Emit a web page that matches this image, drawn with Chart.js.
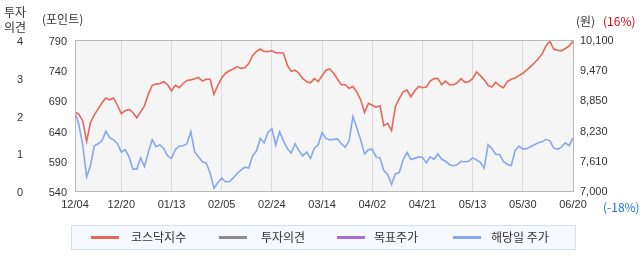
<!DOCTYPE html>
<html><head><meta charset="utf-8">
<script src="https://cdn.jsdelivr.net/npm/chart.js@4.4.1/dist/chart.umd.min.js"></script>
<style>html,body{margin:0;padding:0;background:#fff;}#wrap{width:642px;height:268px;}</style>
</head><body><div id="wrap"><canvas id="c" width="642" height="268"></canvas></div>
<script>
// ---- data ----
const tickIndex = [0,12,25,38,51,64,77,90,103,116,129];
const tickDates = ['12/04','12/20','01/13','02/05','02/24','03/14','04/02','04/21','05/13','05/30','06/20'];
const priceTicks = [7000,7620,8240,8860,9480,10100];
const priceTickLabels = ['7,000','7,610','8,230','8,850','9,470','10,100'];
const seriesNames = ['코스닥지수','투자의견','목표주가','해당일 주가'];
const kosdaqIndex = [
671,667,656,622,653,666,676,686,694,691,
694,682,668,673,675,670,661,671,681,700,
715,717,718,721,716,706,715,711,718,723,
724,726,728,722,725,725,700,715,727,735,
739,742,746,743,744,751,764,771,775,771,
771,772,769,769,768,748,738,740,735,726,
721,719,726,721,731,740,742,735,725,716,
716,710,713,704,691,670,685,682,679,681,
648,652,640,680,693,704,707,696,706,713,
711,712,722,726,726,716,722,716,716,719,
726,720,721,726,737,731,724,715,712,720,
714,711,721,725,727,731,735,740,746,752,
759,767,780,788,775,773,772,776,780,788];
const stockPrice = [
8630,8360,7950,7290,7520,7930,7970,8030,8230,8090,
8050,7970,7800,7850,7700,7450,7450,7680,7500,7800,
8050,7910,7950,7870,7720,7670,7850,7920,7930,7970,
8220,7800,7700,7600,7570,7370,7060,7170,7270,7190,
7190,7270,7360,7430,7490,7470,7720,7820,8080,7990,
8200,8280,7940,8220,8030,7870,7780,7970,7830,7720,
7800,7670,7880,7950,8200,8080,8050,8060,8070,7970,
7900,8030,8530,8300,8050,7760,7850,7860,7700,7680,
7420,7340,7140,7350,7380,7640,7790,7650,7670,7700,
7690,7580,7700,7650,7760,7650,7610,7540,7520,7540,
7610,7600,7610,7680,7640,7590,7470,7950,7870,7750,
7750,7600,7550,7520,7830,7920,7860,7870,7910,7950,
7990,8010,8060,8030,7880,7860,7900,7990,7930,8090];
const opinionData = [];
const targetPriceData = [];

// ---- styles ----
const COLORS = {red:'#e8675a', gray:'#8c8c8c', purple:'#a46fd0', blue:'#86a8ec'};
const NUM_FONT = {family:"'Liberation Sans', Arial, sans-serif", size:11};
const KR = "'Noto Sans CJK KR', sans-serif";
const TXT = '#333';

const bgPlugin = {
  id:'bg',
  beforeDraw(chart){
    const {ctx, chartArea:a} = chart;
    ctx.save();
    ctx.fillStyle = '#fff';
    ctx.fillRect(0,0,chart.width,chart.height);
    ctx.fillStyle = '#f5f5f5';
    ctx.fillRect(a.left, a.top, a.right-a.left, a.bottom-a.top);
    ctx.restore();
  },
  afterDatasetsDraw(chart){
    const {ctx, chartArea:a} = chart;
    ctx.save();
    ctx.strokeStyle = '#b9b9b9';
    ctx.lineWidth = 1;
    const l = Math.floor(a.left)+0.5, t = Math.floor(a.top)+0.5, r = Math.floor(a.right)+0.5, b = Math.floor(a.bottom)+0.5;
    ctx.strokeRect(l, t, r-l, b-t);
    ctx.restore();
  }
};

const decorPlugin = {
  id:'decor',
  afterDraw(chart){
    const ctx = chart.ctx;
    ctx.save();
    ctx.textBaseline = 'middle';
    ctx.textAlign = 'left';
    ctx.font = '12px ' + KR;
    ctx.fillStyle = TXT;
    ctx.fillText('투자', 4, 12.5);
    ctx.fillText('의견', 4, 27);
    ctx.fillText('(포인트)', 42, 19);
    ctx.fillText('(원)', 576, 21);
    ctx.fillStyle = '#e60012';
    ctx.fillText('(16%)', 603, 21);
    ctx.fillStyle = '#1a73e0';
    ctx.fillText('(-18%)', 603, 207.5);
    // legend box
    ctx.fillStyle = '#f5f9fe';
    ctx.fillRect(71.5, 225.5, 504, 24);
    ctx.strokeStyle = '#d6e0ea';
    ctx.lineWidth = 1;
    ctx.strokeRect(71.5, 225.5, 504, 24);
    const lineX = [91,219,337,453];
    const textX = [131,261,374,491];
    const cols = [COLORS.red, COLORS.gray, COLORS.purple, COLORS.blue];
    seriesNames.forEach((n,i)=>{
      ctx.fillStyle = cols[i];
      ctx.fillRect(lineX[i], 236, 28, 3);
      ctx.fillStyle = TXT;
      ctx.fillText(n, textX[i], 237.5);
    });
    ctx.restore();
  }
};

const toXY = arr => arr.map((v,i)=>({x:i, y:v}));

new Chart(document.getElementById('c').getContext('2d'), {
  type:'line',
  data:{datasets:[
    {label:seriesNames[0], data:toXY(kosdaqIndex), yAxisID:'yIdx', borderColor:COLORS.red, borderWidth:1.6, pointRadius:0, tension:0},
    {label:seriesNames[1], data:toXY(opinionData), yAxisID:'yOp', borderColor:COLORS.gray, borderWidth:1.6, pointRadius:0},
    {label:seriesNames[2], data:toXY(targetPriceData), yAxisID:'yPrice', borderColor:COLORS.purple, borderWidth:1.6, pointRadius:0},
    {label:seriesNames[3], data:toXY(stockPrice), yAxisID:'yPrice', borderColor:COLORS.blue, borderWidth:1.6, pointRadius:0, tension:0}
  ]},
  options:{
    responsive:false, animation:false, devicePixelRatio:1,
    layout:{padding:{top:40, bottom:57, left:0, right:0}},
    plugins:{legend:{display:false}, tooltip:{enabled:false}},
    scales:{
      x:{type:'linear', min:0, max:129,
        afterBuildTicks:s=>{s.ticks = tickIndex.map(v=>({value:v}));},
        ticks:{callback:v=>tickDates[tickIndex.indexOf(v)], font:NUM_FONT, color:TXT, padding:7, maxRotation:0, autoSkip:false},
        grid:{color:'#dadada', drawTicks:false}, border:{display:false},
        afterFit:s=>{s.height=20;}},
      yOp:{position:'left', weight:1, min:0, max:4,
        ticks:{stepSize:1, font:NUM_FONT, color:TXT, padding:17, crossAlign:'near', labelOffset:2},
        grid:{display:false, drawTicks:false}, border:{display:false},
        afterFit:s=>{s.width=40;}},
      yIdx:{position:'left', weight:0, min:540, max:790,
        ticks:{stepSize:50, font:NUM_FONT, color:TXT, padding:8, crossAlign:'near', labelOffset:2},
        grid:{display:false, drawTicks:false}, border:{display:false},
        afterFit:s=>{s.width=35;}},
      yPrice:{position:'right', min:7000, max:10100,
        afterBuildTicks:s=>{s.ticks = priceTicks.map(v=>({value:v}));},
        ticks:{callback:v=>priceTickLabels[priceTicks.indexOf(v)], font:NUM_FONT, color:TXT, padding:7, crossAlign:'near', labelOffset:1},
        grid:{display:false, drawTicks:false}, border:{display:false},
        afterFit:s=>{s.width=69;}}
    }
  },
  plugins:[bgPlugin, decorPlugin]
});
</script></body></html>
